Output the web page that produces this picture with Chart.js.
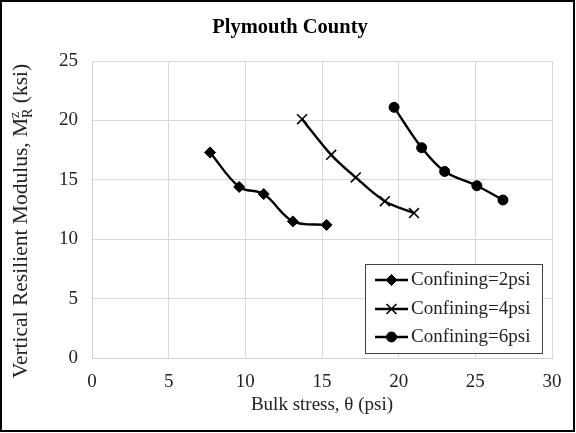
<!DOCTYPE html>
<html>
<head>
<meta charset="utf-8">
<script src="https://cdn.jsdelivr.net/npm/chart.js@4.4.1/dist/chart.umd.min.js"></script>
<style>
  html, body { margin: 0; padding: 0; background: #fff; }
  #wrap { width: 576px; height: 433px; }
</style>
</head>
<body>
<div id="wrap"><canvas id="c" width="576" height="433"></canvas></div>
<script>
// ---- data ----
const seriesNames = ['Confining=2psi', 'Confining=4psi', 'Confining=6psi'];
const bulk2 = [7.7, 9.6, 11.2, 13.1, 15.3];
const mod2  = [17.3, 14.4, 13.8, 11.5, 11.2];
const bulk4 = [13.7, 15.6, 17.2, 19.1, 21.0];
const mod4  = [20.1, 17.1, 15.2, 13.2, 12.2];
const bulk6 = [19.7, 21.5, 23.0, 25.1, 26.8];
const mod6  = [21.1, 17.7, 15.7, 14.5, 13.3];
const xTicks = [0, 5, 10, 15, 20, 25, 30];
const yTicks = [0, 5, 10, 15, 20, 25];

const SERIF = '"Liberation Serif", "Times New Roman", serif';

function pts(xs, ys) { return xs.map((x, i) => ({ x: x, y: ys[i] })); }

const styles = [
  { pointStyle: 'rectRot', pointRadius: 5.5, pointBorderWidth: 1 },
  { pointStyle: 'crossRot', pointRadius: 7, pointBorderWidth: 1.6 },
  { pointStyle: 'circle', pointRadius: 5, pointBorderWidth: 1 }
];
const dataList = [pts(bulk2, mod2), pts(bulk4, mod4), pts(bulk6, mod6)];

const datasets = dataList.map((d, i) => Object.assign({
  label: seriesNames[i],
  data: d,
  showLine: true,
  borderColor: '#000',
  backgroundColor: '#000',
  pointBackgroundColor: '#000',
  pointBorderColor: '#000',
  borderWidth: 2.4,
  tension: 0.35,
  pointHoverRadius: 0
}, styles[i]));

const frame = {
  id: 'frame',
  beforeDraw(chart) {
    const ctx = chart.ctx;
    ctx.save();
    ctx.fillStyle = '#fff';
    ctx.fillRect(0, 0, chart.width, chart.height);
    ctx.restore();
  },
  afterDraw(chart) {
    const ctx = chart.ctx;
    ctx.save();
    ctx.strokeStyle = '#000';
    ctx.lineWidth = 2;
    ctx.strokeRect(1, 1, 573, 430);
    ctx.restore();
  }
};

const yTitle = {
  id: 'yTitle',
  afterDraw(chart) {
    const ctx = chart.ctx;
    const big = 21.5, small = 14;
    const parts = [
      { t: 'Vertical Resilient Modulus, M', size: big, dy: 0 },
      { t: 'z', size: small, dy: -8 },
      { t: 'R', size: small, dy: 5 },
      { t: ' (ksi)', size: big, dy: 0 }
    ];
    ctx.save();
    ctx.fillStyle = '#222';
    ctx.textBaseline = 'alphabetic';
    ctx.textAlign = 'left';
    const widths = parts.map(p => { ctx.font = p.size + 'px ' + SERIF; return ctx.measureText(p.t).width; });
    const total = widths[0] + Math.max(widths[1], widths[2]) + widths[3];
    ctx.translate(20, 221);
    ctx.rotate(-Math.PI / 2);
    let x = -total / 2;
    const base = 7;
    ctx.font = big + 'px ' + SERIF; ctx.fillText(parts[0].t, x, base); x += widths[0];
    ctx.font = small + 'px ' + SERIF; ctx.fillText(parts[1].t, x, base + parts[1].dy);
    ctx.fillText(parts[2].t, x, base + parts[2].dy);
    x += Math.max(widths[1], widths[2]);
    ctx.font = big + 'px ' + SERIF; ctx.fillText(parts[3].t, x, base);
    ctx.restore();
  }
};

const legendBox = {
  id: 'legendBox',
  afterDraw(chart) {
    const ctx = chart.ctx;
    const L = 365, T = 264, R = 542, B = 353;
    ctx.save();
    ctx.fillStyle = '#fff';
    ctx.fillRect(L, T, R - L, B - T);
    ctx.strokeStyle = '#404040';
    ctx.lineWidth = 1;
    ctx.strokeRect(L + 0.5, T + 0.5, R - L, B - T);
    const rows = [280, 309, 337];
    chart.data.datasets.forEach((ds, i) => {
      const y = rows[i];
      ctx.strokeStyle = '#000';
      ctx.lineWidth = 2.4;
      ctx.beginPath();
      ctx.moveTo(375, y);
      ctx.lineTo(408, y);
      ctx.stroke();
      ctx.fillStyle = '#000';
      ctx.lineWidth = ds.pointBorderWidth;
      Chart.helpers.drawPoint(ctx, { pointStyle: ds.pointStyle, radius: ds.pointRadius, rotation: 0, borderWidth: ds.pointBorderWidth }, 391.5, y);
      ctx.fillStyle = '#222';
      ctx.font = '19px ' + SERIF;
      ctx.textBaseline = 'middle';
      ctx.textAlign = 'left';
      ctx.fillText(ds.label, 411, y);
    });
    ctx.restore();
  }
};

new Chart(document.getElementById('c'), {
  type: 'scatter',
  data: { datasets: datasets },
  plugins: [frame, yTitle, legendBox],
  options: {
    responsive: false,
    animation: false,
    events: [],
    layout: { padding: { left: 28, right: 24, top: 0, bottom: 0 } },
    plugins: {
      legend: { display: false },
      tooltip: { enabled: false },
      title: {
        display: true,
        text: 'Plymouth County',
        color: '#000',
        font: { family: SERIF, size: 20.5, weight: 'bold', lineHeight: 1.2 },
        padding: { top: 15, bottom: 21.4 }
      }
    },
    scales: {
      x: {
        type: 'linear',
        min: 0, max: 30,
        afterBuildTicks(scale) { scale.ticks = xTicks.map(v => ({ value: v })); },
        afterFit(scale) { scale.height = 75; },
        grid: { color: '#d9d9d9', lineWidth: 1, drawTicks: false },
        border: { color: '#d0d0d0', width: 1 },
        ticks: { color: '#222', font: { family: SERIF, size: 19 }, padding: 13 },
        title: {
          display: true,
          text: 'Bulk stress, θ (psi)',
          color: '#222',
          font: { family: SERIF, size: 19 },
          padding: { top: 3, bottom: 16.6 }
        }
      },
      y: {
        type: 'linear',
        min: 0, max: 25,
        afterBuildTicks(scale) { scale.ticks = yTicks.map(v => ({ value: v })); },
        afterFit(scale) { scale.width = 64; },
        grid: { color: '#d9d9d9', lineWidth: 1, drawTicks: false },
        border: { color: '#d0d0d0', width: 1 },
        ticks: { color: '#222', font: { family: SERIF, size: 19 }, padding: 14 }
      }
    }
  }
});
</script>
</body>
</html>
